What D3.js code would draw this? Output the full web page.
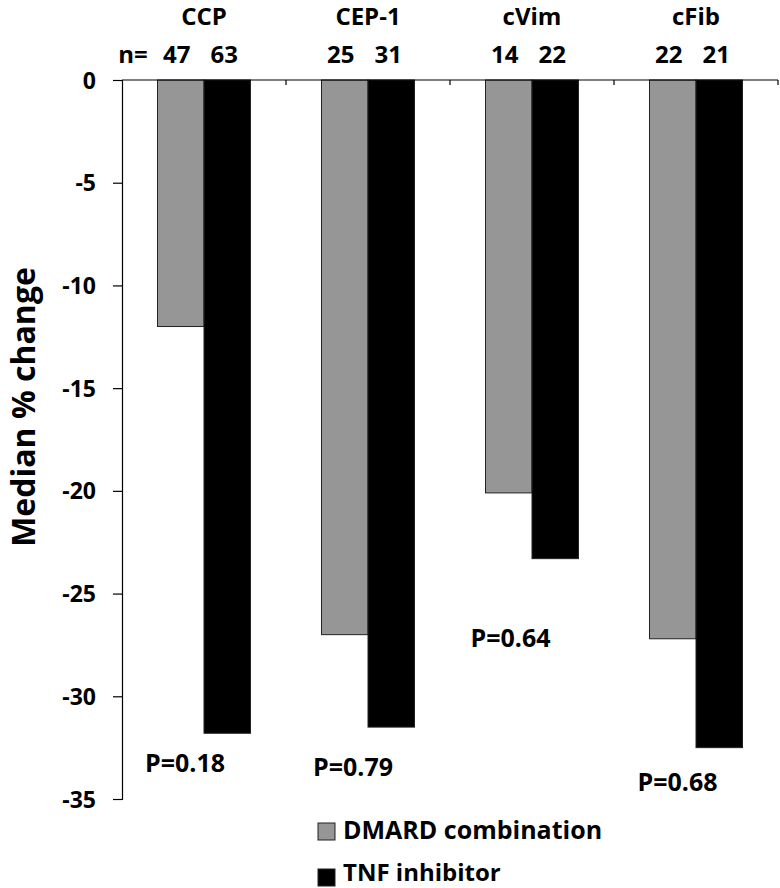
<!DOCTYPE html>
<html><head><meta charset="utf-8">
<script src="https://cdn.jsdelivr.net/npm/d3@7"></script>
<style>body{margin:0;background:#fff}svg text{font-family:"Open Sans",sans-serif;font-weight:bold;fill:#000}</style>
</head><body><svg id="c" width="780" height="888"></svg>
<script>
const categories = ["CCP","CEP-1","cVim","cFib"];
const series = ["DMARD combination","TNF inhibitor"];
const dmard = [-12.0,-27.0,-20.1,-27.2];
const tnf = [-31.8,-31.5,-23.3,-32.5];
const nDmard = [47,25,14,22];
const nTnf = [63,31,22,21];
const pValues = ["P=0.18","P=0.79","P=0.64","P=0.68"];
const pPos = [-33.7,-33.9,-27.6,-34.6];
const yTicks = [0,-5,-10,-15,-20,-25,-30,-35];
const colors = ["#969696","#000000"];

const svg = d3.select("#c");
const x0 = d3.scaleBand().domain(categories).range([122,778]).padding(0);
const x1 = d3.scaleBand().domain(series).range([35.5,128.5]).padding(0);
const y = d3.scaleLinear().domain([0,-35]).range([80,799]);

// y axis
const ya = svg.append("g").attr("transform","translate(122,0)")
  .call(d3.axisLeft(y).tickValues(yTicks).tickSize(9).tickPadding(17).tickFormat(d=>String(d)));
ya.select(".domain").attr("stroke","#000").attr("stroke-width",1.2);
ya.selectAll(".tick line").attr("stroke","#000").attr("stroke-width",1.2);
ya.selectAll(".tick text").attr("font-size",23).attr("dy","0.35em").style("font-family","'Open Sans',sans-serif").style("font-weight","bold");

// bars
const data = categories.map((c,i)=>({c,vals:[dmard[i],tnf[i]]}));
const g = svg.append("g");
data.forEach(d=>{
  g.selectAll(null).data(series.map((s,j)=>({s,v:d.vals[j],j}))).enter().append("rect")
    .attr("x",e=>x0(d.c)+x1(e.s))
    .attr("y",y(0))
    .attr("width",x1.bandwidth())
    .attr("height",e=>y(e.v)-y(0))
    .attr("fill",e=>colors[e.j])
    .attr("stroke","#222").attr("stroke-width",1);
});

// x axis line at zero with ticks down at category boundaries
svg.append("line").attr("x1",122).attr("x2",778).attr("y1",y(0)).attr("y2",y(0)).attr("stroke","#000").attr("stroke-width",1.2);
categories.forEach(c=>{
  const xb = x0(c)+x0.bandwidth();
  svg.append("line").attr("x1",xb).attr("x2",xb).attr("y1",y(0)).attr("y2",y(0)+5).attr("stroke","#000").attr("stroke-width",1.2);
});

// category titles
svg.selectAll(".cat").data(categories).enter().append("text")
  .attr("x",c=>x0(c)+x0.bandwidth()/2).attr("y",25).attr("text-anchor","middle").attr("font-size",24).text(c=>c);

// n labels
svg.append("text").attr("x",133).attr("y",63).attr("text-anchor","middle").attr("font-size",24).text("n=");
categories.forEach((c,i)=>{
  svg.append("text").attr("x",x0(c)+x1(series[0])+x1.bandwidth()/2-4).attr("y",63).attr("text-anchor","middle").attr("font-size",24).text(nDmard[i]);
  svg.append("text").attr("x",x0(c)+x1(series[1])+x1.bandwidth()/2-3).attr("y",63).attr("text-anchor","middle").attr("font-size",24).text(nTnf[i]);
});

// p values
const pX = [-19,-15,-21.5,-18.5];
categories.forEach((c,i)=>{
  svg.append("text").attr("x",x0(c)+x0.bandwidth()/2+pX[i]).attr("y",y(pPos[i])).attr("text-anchor","middle").attr("font-size",25).text(pValues[i]);
});

// y title
svg.append("text").attr("transform","translate(35,407) rotate(-90)").attr("text-anchor","middle").attr("font-size",32).text("Median % change");

// legend
series.forEach((s,j)=>{
  const ly = 823 + j*46;
  svg.append("rect").attr("x",318).attr("y",ly).attr("width",17).attr("height",17).attr("fill",colors[j]).attr("stroke","#222").attr("stroke-width",1);
  svg.append("text").attr("x",343).attr("y",j===0?ly+16:881).attr("font-size",j===0?25:24).text(s);
});
</script></body></html>
